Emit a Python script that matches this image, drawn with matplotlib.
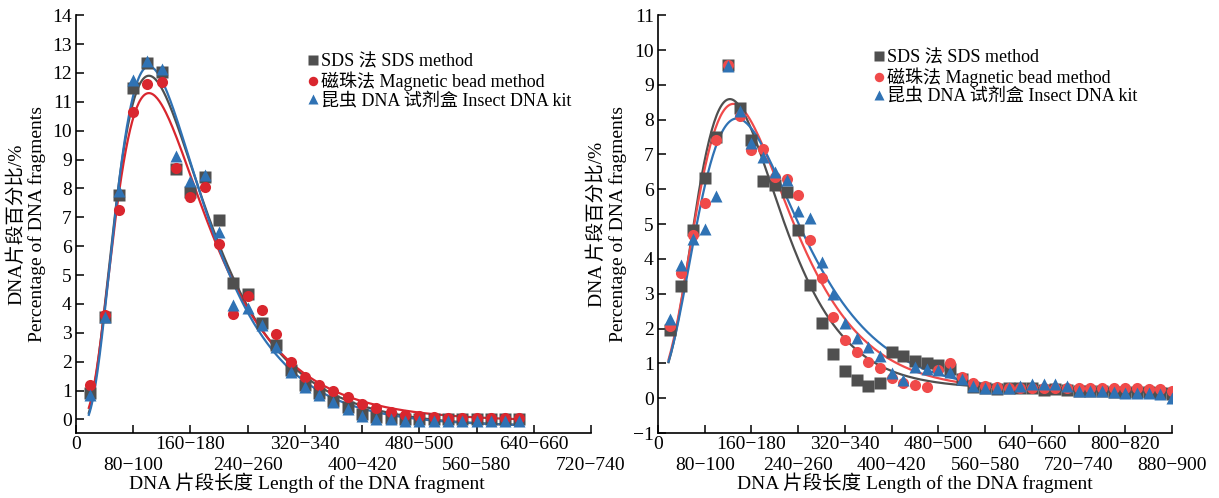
import numpy as np
import matplotlib
matplotlib.use('Agg')
import matplotlib.pyplot as plt

plt.rcParams['font.family'] = ['Liberation Serif', 'Noto Sans CJK SC']
plt.rcParams['axes.unicode_minus'] = True

# fragment length (bp), one point every 20 bp
x_left = [20, 40, 60, 80, 100, 120, 140, 160, 180, 200, 220, 240, 260, 280, 300, 320,
          340, 360, 380, 400, 420, 440, 460, 480, 500, 520, 540, 560, 580, 600, 620]
sds_left = [0.9, 3.56, 7.77, 11.47, 12.33, 12.04, 8.66, 7.89, 8.4, 6.9, 4.73, 4.35, 3.35, 2.58,
            1.7, 1.19, 0.93, 0.65, 0.42, 0.18, 0.08, 0.05, 0.03, 0.03, 0.02, 0.02, 0.02, 0.0,
            0.0, 0.0, 0.0]
bead_left = [1.19, 3.6, 7.27, 10.66, 11.62, 11.7, 8.7, 7.71, 8.04, 6.07, 3.65, 4.27, 3.78, 2.95,
             1.99, 1.47, 1.18, 0.97, 0.77, 0.55, 0.38, 0.25, 0.17, 0.12, 0.08, 0.06, 0.05, 0.05,
             0.05, 0.05, 0.04]
kit_left = [0.84, 3.55, 7.92, 11.75, 12.41, 12.12, 9.13, 8.27, 8.46, 6.5, 3.96, 3.87, 3.26, 2.52,
            1.65, 1.13, 0.84, 0.6, 0.36, 0.12, 0.02, 0.0, -0.05, -0.05, -0.05, -0.05, -0.05,
            -0.05, -0.05, -0.05, -0.05]

x_right = [20, 40, 60, 80, 100, 120, 140, 160, 180, 200, 220, 240, 260, 280, 300, 320, 340,
           360, 380, 400, 420, 440, 460, 480, 500, 520, 540, 560, 580, 600, 620, 640, 660, 680,
           700, 720, 740, 760, 780, 800, 820, 840, 860, 880]
sds_right = [1.96, 3.23, 4.84, 6.32, 7.5, 9.58, 8.33, 7.42, 6.25, 6.13, 5.91, 4.82, 3.26, 2.16,
             1.27, 0.77, 0.53, 0.34, 0.43, 1.34, 1.2, 1.07, 1.0, 0.95, 0.85, 0.55, 0.33, 0.3,
             0.27, 0.28, 0.3, 0.28, 0.23, 0.25, 0.23, 0.22, 0.2, 0.2, 0.18, 0.18, 0.18, 0.17,
             0.15, 0.12]
bead_right = [2.06, 3.59, 4.7, 5.6, 7.42, 9.58, 8.11, 7.14, 7.16, 6.35, 6.3, 5.84, 4.53, 3.44,
              2.33, 1.66, 1.34, 1.05, 0.86, 0.57, 0.45, 0.38, 0.33, 0.8, 1.02, 0.6, 0.45, 0.35,
              0.31, 0.3, 0.3, 0.3, 0.28, 0.3, 0.3, 0.3, 0.3, 0.28, 0.3, 0.3, 0.28, 0.27, 0.25,
              0.2]
kit_right = [2.27, 3.83, 4.57, 4.86, 5.81, 9.55, 8.24, 7.33, 6.94, 6.51, 6.27, 5.39, 5.17, 3.9,
             3.0, 2.16, 1.72, 1.46, 1.2, 0.72, 0.52, 0.9, 0.85, 0.8, 0.75, 0.55, 0.35, 0.3,
             0.28, 0.3, 0.35, 0.4, 0.4, 0.4, 0.35, 0.2, 0.2, 0.2, 0.18, 0.15, 0.15, 0.15, 0.12,
             0.0]

left_ticks = [0, 80, 160, 240, 320, 400, 480, 560, 640, 720]
left_ticklabels = ['0', '80−100', '160−180', '240−260', '320−340', '400−420', '480−500',
                   '560−580', '640−660', '720−740']
right_ticks = [0, 80, 160, 240, 320, 400, 480, 560, 640, 720, 800, 880]
right_ticklabels = ['0', '80−100', '160−180', '240−260', '320−340', '400−420', '480−500',
                    '560−580', '640−660', '720−740', '800−820', '880−900']

labels = ['SDS 法 SDS method', '磁珠法 Magnetic bead method', '昆虫 DNA 试剂盒 Insect DNA kit']


def lognormal_fit(x, y):
    # y = y0 + A*exp(-(ln((x+s)/xc))^2 / (2 w^2)), grid search + linear solve for y0, A
    x = np.asarray(x, float)
    y = np.asarray(y, float)
    best = None
    for s in np.arange(0, 61, 5):
        xc = np.arange(70, 221, 1.0)[:, None, None]
        w = np.arange(0.15, 0.9, 0.01)[None, :, None]
        f = np.exp(-np.log((x + s) / xc) ** 2 / (2 * w ** 2))
        fm = f.mean(-1, keepdims=True)
        ym = y.mean()
        A = ((f - fm) * (y - ym)).sum(-1) / ((f - fm) ** 2).sum(-1)
        y0 = ym - A * fm[..., 0]
        err = ((y0[..., None] + A[..., None] * f - y) ** 2).sum(-1)
        i, j = np.unravel_index(np.argmin(err), err.shape)
        if best is None or err[i, j] < best[0]:
            best = (err[i, j], s, xc[i, 0, 0], w[0, j, 0], A[i, j], y0[i, j])
    _, s, xc, w, A, y0 = best
    xx = np.linspace(x.min() - 2, x.max() + 4, 400)
    return xx, y0 + A * np.exp(-np.log((xx + s) / xc) ** 2 / (2 * w ** 2))


fig = plt.figure(figsize=(12.19, 4.98), dpi=100)
ax1 = fig.add_axes([0.0623, 0.1305, 0.4225, 0.839])
ax2 = fig.add_axes([0.5398, 0.1305, 0.4217, 0.839])

gray = '#4f4f4f'
blue = '#2f72b4'

def draw(ax, x, series, red):
    styles = [('s', gray), ('o', red), ('^', blue)]
    for ys, (m, c), lab in zip(series, styles, labels):
        xx, yy = lognormal_fit(x, ys)
        ax.plot(xx, yy, color=c, lw=1.6, zorder=2)
        ax.plot(x, ys, m, color=c, ms=8, mec='none', label=lab, zorder=3)

def stagger_ticks(ax, ticks, ticklabels):
    # even labels on the upper row, odd labels on the lower row
    ax.set_xticks(ticks[0::2])
    ax.set_xticklabels(ticklabels[0::2])
    ax.set_xticks(ticks[1::2], minor=True)
    ax.set_xticklabels(ticklabels[1::2], minor=True)

draw(ax1, x_left, [sds_left, bead_left, kit_left], '#d9262e')
draw(ax2, x_right, [sds_right, bead_right, kit_right], '#f04a4a')

ax1.set_xlim(0, 720)
ax1.set_ylim(-0.47, 14)
ax1.set_yticks(range(0, 15))
stagger_ticks(ax1, left_ticks, left_ticklabels)
ax1.set_ylabel('DNA片段百分比/%\nPercentage of DNA fragments', fontsize=14, linespacing=1.25)
ax1.set_xlabel('DNA 片段长度 Length of the DNA fragment', fontsize=14)
ax1.xaxis.set_label_coords(0.449, -0.095)

ax2.set_xlim(0, 880)
ax2.set_ylim(-1, 11)
ax2.set_yticks(range(-1, 12))
stagger_ticks(ax2, right_ticks, right_ticklabels)
ax2.set_ylabel('DNA 片段百分比/%\nPercentage of DNA fragments', fontsize=14, linespacing=1.25)
ax2.set_xlabel('DNA 片段长度 Length of the DNA fragment', fontsize=14)
ax2.xaxis.set_label_coords(0.5, -0.095)

for ax in (ax1, ax2):
    ax.spines['top'].set_visible(False)
    ax.spines['right'].set_visible(False)
    ax.spines['left'].set_linewidth(1.2)
    ax.spines['bottom'].set_linewidth(1.2)
    ax.tick_params(direction='in', length=6, width=1.1, labelsize=14, pad=3)
    ax.tick_params(axis='x', which='major', pad=2)
    ax.tick_params(axis='x', which='minor', direction='in', length=6, width=1.1,
                   labelsize=14, pad=17)

ax1.legend(loc='upper left', bbox_to_anchor=(0.43, 0.925), frameon=False, fontsize=13,
           handletextpad=0.0, handlelength=0.9, labelspacing=0.05, borderaxespad=0,
           markerscale=0.85)
ax2.legend(loc='upper left', bbox_to_anchor=(0.4, 0.935), frameon=False, fontsize=13,
           handletextpad=0.0, handlelength=0.9, labelspacing=0.05, borderaxespad=0,
           markerscale=0.85)

fig.savefig('out.png', dpi=100)
